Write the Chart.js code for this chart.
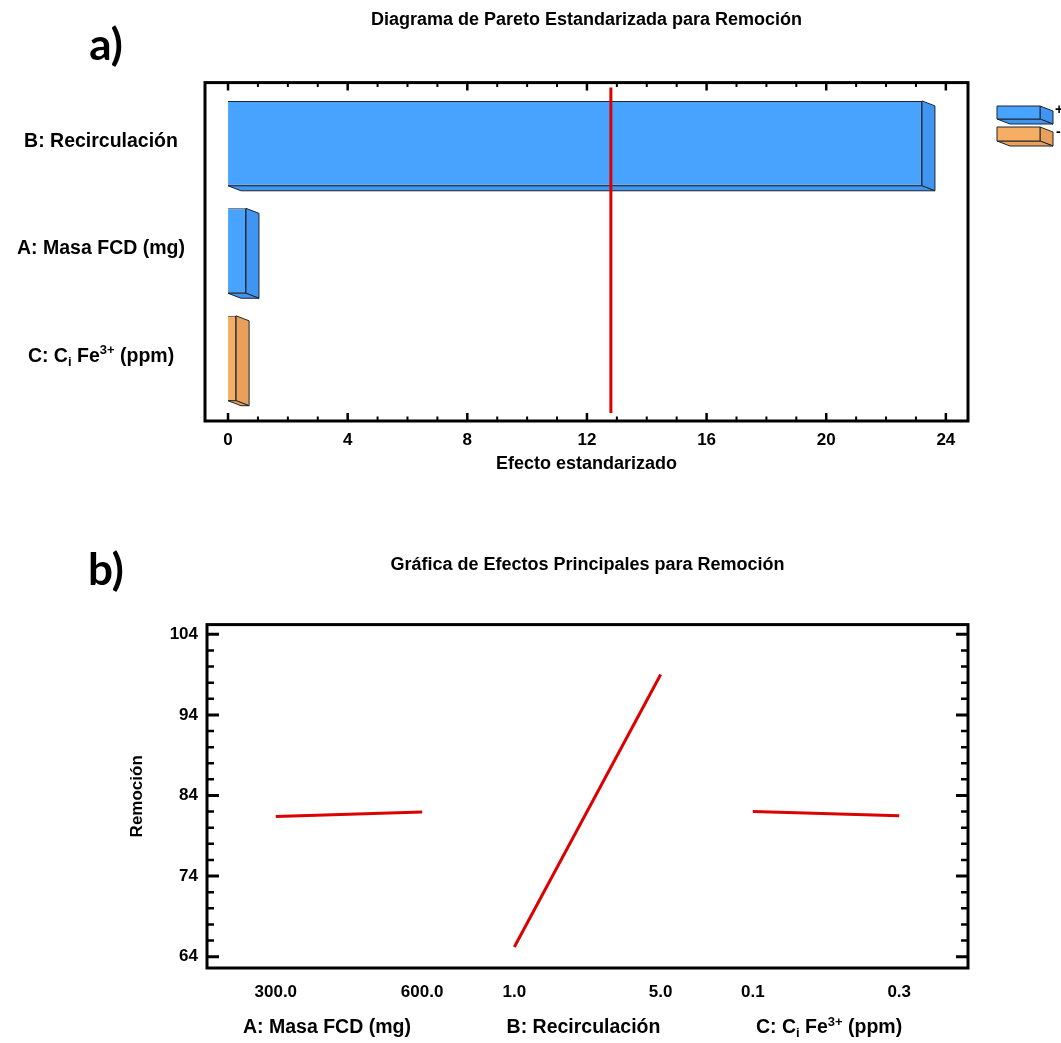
<!DOCTYPE html>
<html>
<head>
<meta charset="utf-8">
<script src="https://cdn.jsdelivr.net/npm/chart.js@4.4.1/dist/chart.umd.min.js"></script>
<style>
    html, body { margin:0; padding:0; background:#fff; }
    #wrap { position:relative; width:1061px; height:1043px; overflow:hidden; }
    .box { position:absolute; left:0; }
    #box-a { top:0; }
    #box-b { top:490px; }
</style>
</head>
<body>
<div id="wrap">
    <div class="box" id="box-a"><canvas id="chart-pareto" width="1061" height="490"></canvas></div>
    <div class="box" id="box-b"><canvas id="chart-effects" width="1061" height="553"></canvas></div>
</div>
<script>
// a) Pareto — standardized effects, top to bottom
const PARETO_FACTORS = ['B: Recirculación', 'A: Masa FCD (mg)', 'C: C_i Fe^{3+} (ppm)'];
const PARETO_EFFECTS = [23.2, 0.6, 0.27];
const PARETO_SIGNS = ['+', '+', '-'];
const CRITICAL_T = 12.8;
const PARETO_TICKS = [0, 4, 8, 12, 16, 20, 24];

// b) Main effects — mean Remoción at low / high level of each factor
const EFFECT_FACTORS = ['A: Masa FCD (mg)', 'B: Recirculación', 'C: C_i Fe^{3+} (ppm)'];
const LOW_LABELS = ['300.0', '1.0', '0.1'];
const HIGH_LABELS = ['600.0', '5.0', '0.3'];
const MEAN_LOW = [81.4, 65.2, 82.0];
const MEAN_HIGH = [81.95, 99.0, 81.5];
const EFFECT_TICKS = [64, 74, 84, 94, 104];

const FONT = '"Liberation Sans", Arial, sans-serif';
const BLUE = '#48A3FF', BLUE_SIDE = '#3F95F0';
const ORANGE = '#F5AE64', ORANGE_SIDE = '#E8A05B';
const EDGE = '#1e2430';
const RED = '#DC0000';
const DX = 13, DY = 5; // 3D depth
const SLOT = 1.63;     // spacing between factor groups on the effects axis
const NAME_SHIFT = [-22, -4, 3]; // factor name nudges under the effects axis (px)

function parseRich(str) {
    const parts = [];
    const re = /_(\w)|\^\{([^}]*)\}|([^_^]+)/g;
    let m;
    while ((m = re.exec(str))) {
        if (m[1]) parts.push({ t: m[1], mode: 'sub' });
        else if (m[2]) parts.push({ t: m[2], mode: 'sup' });
        else parts.push({ t: m[3], mode: 'n' });
    }
    return parts;
}

function drawRich(ctx, str, x, y, size, align) {
    const parts = parseRich(str);
    const small = Math.round(size * 0.65);
    const fontOf = p => `bold ${p.mode === 'n' ? size : small}px ${FONT}`;
    let w = 0;
    parts.forEach(p => { ctx.font = fontOf(p); p.w = ctx.measureText(p.t).width; w += p.w; });
    let cx = align === 'center' ? x - w / 2 : align === 'right' ? x - w : x;
    ctx.textBaseline = 'middle';
    ctx.textAlign = 'left';
    ctx.fillStyle = '#000';
    parts.forEach(p => {
        ctx.font = fontOf(p);
        const dy = p.mode === 'sub' ? size * 0.3 : p.mode === 'sup' ? -size * 0.3 : 0;
        ctx.fillText(p.t, cx, y + dy);
        cx += p.w;
    });
}

function poly(ctx, pts, fill) {
    ctx.beginPath();
    pts.forEach((p, i) => i ? ctx.lineTo(p[0], p[1]) : ctx.moveTo(p[0], p[1]));
    ctx.closePath();
    ctx.fillStyle = fill;
    ctx.fill();
    ctx.stroke();
}

function box3d(ctx, x0, x1, top, bot, front, side) {
    ctx.strokeStyle = EDGE;
    ctx.lineWidth = 1;
    poly(ctx, [[x1, top], [x1 + DX, top + DY], [x1 + DX, bot + DY], [x1, bot]], side);
    poly(ctx, [[x0, bot], [x0 + DX, bot + DY], [x1 + DX, bot + DY], [x1, bot]], side);
    poly(ctx, [[x0, top], [x1, top], [x1, bot], [x0, bot]], front);
}

function panelLetter(ctx, txt, y) {
    ctx.save();
    ctx.font = 'bold 44px Lato, "Open Sans", sans-serif';
    ctx.fillStyle = '#000';
    ctx.textAlign = 'center';
    ctx.textBaseline = 'middle';
    ctx.fillText(txt, 106, y);
    ctx.restore();
}

const paretoDecor = {
    id: 'paretoDecor',
    beforeDatasetsDraw(chart) {
        const ctx = chart.ctx;
        ctx.save();
        chart.getDatasetMeta(0).data.forEach((bar, i) => {
            const { x, y, height } = bar.getProps(['x', 'y', 'height'], true);
            const top = y - height / 2, bot = y + height / 2;
            const side = PARETO_SIGNS[i] === '+' ? BLUE_SIDE : ORANGE_SIDE;
            const base = chart.scales.x.getPixelForValue(0);
            ctx.strokeStyle = EDGE;
            ctx.lineWidth = 1;
            poly(ctx, [[x, top], [x + DX, top + DY], [x + DX, bot + DY], [x, bot]], side);
            poly(ctx, [[base, bot], [base + DX, bot + DY], [x + DX, bot + DY], [x, bot]], side);
        });
        ctx.restore();
    },
    afterDraw(chart) {
        const ctx = chart.ctx;
        const a = chart.chartArea;
        const xs = chart.scales.x, ys = chart.scales.y;
        const fTop = a.top - 7, fBot = a.bottom + 9;
        ctx.save();
        // critical value line
        const cx = xs.getPixelForValue(CRITICAL_T);
        ctx.strokeStyle = RED;
        ctx.lineWidth = 3;
        ctx.beginPath();
        ctx.moveTo(cx, a.top - 2);
        ctx.lineTo(cx, a.bottom + 1);
        ctx.stroke();
        // frame
        ctx.strokeStyle = '#000';
        ctx.lineWidth = 3;
        ctx.strokeRect(a.left, fTop, a.right - a.left, fBot - fTop);
        // major + minor ticks, top and bottom, pointing inward
        const step = (PARETO_TICKS[1] - PARETO_TICKS[0]) / 4;
        for (let v = PARETO_TICKS[0], k = 0; v <= PARETO_TICKS[PARETO_TICKS.length - 1] + 1e-9; v += step, k++) {
            const px = xs.getPixelForValue(v);
            const major = k % 4 === 0;
            const len = major ? 8 : 4.5;
            ctx.lineWidth = major ? 2.5 : 2;
            ctx.beginPath();
            ctx.moveTo(px, fBot); ctx.lineTo(px, fBot - len);
            ctx.moveTo(px, fTop); ctx.lineTo(px, fTop + len);
            ctx.stroke();
        }
        // category labels
        PARETO_FACTORS.forEach((f, i) => drawRich(ctx, f, 101, ys.getPixelForValue(i) - 2, 19.5, 'center'));
        // legend
        box3d(ctx, 997, 1040, 106, 119, BLUE, BLUE_SIDE);
        box3d(ctx, 997, 1040, 127, 141, ORANGE, ORANGE_SIDE);
        ctx.font = `bold 14px ${FONT}`;
        ctx.fillStyle = '#000';
        ctx.textAlign = 'left';
        ctx.textBaseline = 'middle';
        ctx.fillText('+', 1055, 110);
        ctx.fillText('-', 1056, 132);
        ctx.restore();
        panelLetter(ctx, 'a)', 46);
    }
};

new Chart(document.getElementById('chart-pareto'), {
    type: 'bar',
    data: {
        labels: PARETO_FACTORS,
        datasets: [{
            data: PARETO_EFFECTS,
            backgroundColor: PARETO_SIGNS.map(s => s === '+' ? BLUE : ORANGE),
            borderColor: EDGE,
            borderWidth: 1,
            categoryPercentage: 1,
            barPercentage: 0.79
        }]
    },
    options: {
        indexAxis: 'y',
        responsive: false,
        animation: false,
        layout: { padding: { left: 205, right: 93 } },
        plugins: {
            legend: { display: false },
            tooltip: { enabled: false },
            title: {
                display: true, fullSize: false,
                text: 'Diagrama de Pareto Estandarizada para Remoción',
                color: '#000', font: { family: FONT, size: 18, weight: 'bold' },
                padding: { top: 9, bottom: 59 }
            }
        },
        scales: {
            x: {
                type: 'linear', min: -0.77, max: 24.74,
                afterBuildTicks: s => { s.ticks = PARETO_TICKS.map(v => ({ value: v })); },
                afterFit: s => { s.height = 78; },
                grid: { display: false, drawTicks: false },
                border: { display: false },
                ticks: { color: '#000', font: { family: FONT, size: 17, weight: 'bold' }, padding: 18, maxRotation: 0 },
                title: { display: true, text: 'Efecto estandarizado', color: '#000', font: { family: FONT, size: 18, weight: 'bold' }, padding: { top: 0, bottom: 15 } }
            },
            y: { display: false }
        }
    },
    plugins: [paretoDecor]
});

const effectsDecor = {
    id: 'effectsDecor',
    afterDraw(chart) {
        const ctx = chart.ctx;
        const a = chart.chartArea;
        const xs = chart.scales.x, ys = chart.scales.y;
        ctx.save();
        ctx.strokeStyle = '#000';
        ctx.lineWidth = 3;
        ctx.strokeRect(a.left, a.top, a.right - a.left, a.bottom - a.top);
        const step = (EFFECT_TICKS[1] - EFFECT_TICKS[0]) / 5;
        for (let v = EFFECT_TICKS[0], k = 0; v <= EFFECT_TICKS[EFFECT_TICKS.length - 1] + 1e-9; v += step, k++) {
            const py = ys.getPixelForValue(v);
            const major = k % 5 === 0;
            const len = major ? 12 : 7;
            ctx.lineWidth = major ? 3 : 2.5;
            ctx.beginPath();
            ctx.moveTo(a.left, py); ctx.lineTo(a.left + len, py);
            ctx.moveTo(a.right, py); ctx.lineTo(a.right - len, py);
            ctx.stroke();
        }
        EFFECT_FACTORS.forEach((f, i) =>
            drawRich(ctx, f, xs.getPixelForValue(i * SLOT + 0.5) + NAME_SHIFT[i], 538, 19.5, 'center'));
        ctx.restore();
        panelLetter(ctx, 'b)', 81);
    }
};

const LEVEL_LABELS = [];
const LEVEL_POS = [];
EFFECT_FACTORS.forEach((f, i) => {
    LEVEL_LABELS.push(LOW_LABELS[i], HIGH_LABELS[i]);
    LEVEL_POS.push(i * SLOT, i * SLOT + 1);
});

new Chart(document.getElementById('chart-effects'), {
    type: 'line',
    data: {
        datasets: EFFECT_FACTORS.map((f, i) => ({
            label: f,
            data: [{ x: i * SLOT, y: MEAN_LOW[i] }, { x: i * SLOT + 1, y: MEAN_HIGH[i] }],
            borderColor: RED,
            borderWidth: 3,
            pointRadius: 0,
            tension: 0
        }))
    },
    options: {
        responsive: false,
        animation: false,
        layout: { padding: { right: 93 } },
        plugins: {
            legend: { display: false },
            tooltip: { enabled: false },
            title: {
                display: true, fullSize: false,
                text: 'Gráfica de Efectos Principales para Remoción',
                color: '#000', font: { family: FONT, size: 18, weight: 'bold' },
                padding: { top: 64, bottom: 49 }
            }
        },
        scales: {
            x: {
                type: 'linear', min: -0.47, max: 2 * SLOT + 1.47,
                afterBuildTicks: s => { s.ticks = LEVEL_POS.map(v => ({ value: v })); },
                afterFit: s => { s.height = 75; },
                grid: { display: false, drawTicks: false },
                border: { display: false },
                ticks: {
                    color: '#000', font: { family: FONT, size: 17, weight: 'bold' }, padding: 14, maxRotation: 0,
                    callback: (v, i) => LEVEL_LABELS[i]
                }
            },
            y: {
                min: 62.6, max: 105.2,
                afterBuildTicks: s => { s.ticks = EFFECT_TICKS.map(v => ({ value: v })); },
                afterFit: s => { s.width = 207; },
                grid: { display: false, drawTicks: false },
                border: { display: false },
                ticks: { color: '#000', font: { family: FONT, size: 17, weight: 'bold' }, padding: 9 },
                title: { display: true, text: 'Remoción', color: '#000', font: { family: FONT, size: 17, weight: 'bold' }, padding: { top: 127, bottom: 0 } }
            }
        }
    },
    plugins: [effectsDecor]
});
</script>
</body>
</html>
